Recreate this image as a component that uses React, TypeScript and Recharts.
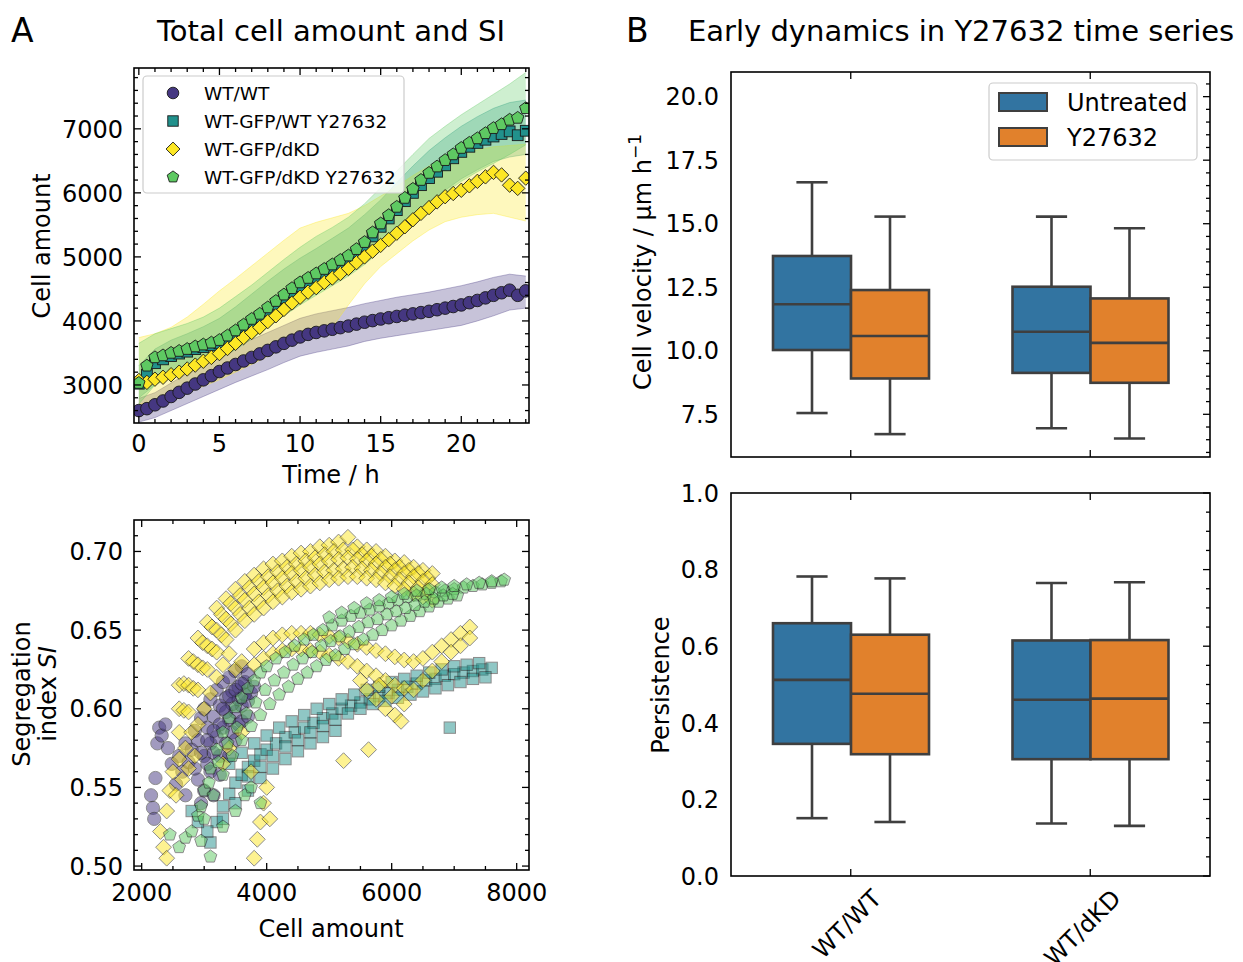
import React from 'react';
import { ComposedChart, Scatter, Area, Bar, XAxis, YAxis } from 'recharts';

const FONT = '"DejaVu Sans", Verdana, sans-serif';

// ---------------- Panel A (top): cell amount vs time ----------------
const meanTimes = [0, 0.5, 1, 1.5, 2, 2.5, 3, 3.5, 4, 4.5, 5, 5.5, 6, 6.5, 7, 7.5, 8, 8.5, 9, 9.5, 10, 10.5, 11, 11.5, 12, 12.5, 13, 13.5, 14, 14.5, 15, 15.5, 16, 16.5, 17, 17.5, 18, 18.5, 19, 19.5, 20, 20.5, 21, 21.5, 22, 22.5, 23, 23.5, 24];
const wtwtMean = [2600, 2630, 2690, 2750, 2820, 2885, 2950, 3015, 3080, 3145, 3210, 3265, 3320, 3375, 3430, 3485, 3540, 3595, 3650, 3700, 3750, 3790, 3820, 3845, 3870, 3895, 3920, 3950, 3980, 4005, 4030, 4050, 4070, 4090, 4110, 4130, 4150, 4175, 4200, 4225, 4250, 4285, 4320, 4360, 4400, 4440, 4480, 4400, 4470];
const wtY27Mean = [3020, 3160, 3340, 3400, 3450, 3490, 3520, 3560, 3590, 3620, 3650, 3720, 3800, 3890, 3980, 4060, 4160, 4260, 4360, 4450, 4540, 4610, 4680, 4750, 4820, 4890, 4960, 5060, 5170, 5320, 5470, 5600, 5730, 5870, 6000, 6120, 6230, 6330, 6430, 6540, 6640, 6720, 6780, 6830, 6880, 6920, 6960, 6900, 6970];
const dkdMean = [3070, 3040, 3090, 3120, 3160, 3200, 3250, 3310, 3370, 3430, 3490, 3570, 3650, 3740, 3820, 3900, 3990, 4080, 4180, 4280, 4370, 4450, 4520, 4600, 4670, 4740, 4820, 4910, 5000, 5090, 5180, 5270, 5370, 5470, 5580, 5680, 5770, 5860, 5940, 5990, 6040, 6110, 6180, 6250, 6320, 6280, 6120, 6070, 6230];
const dkdY27Mean = [3030, 3300, 3430, 3460, 3500, 3530, 3560, 3600, 3630, 3660, 3700, 3770, 3850, 3940, 4030, 4110, 4210, 4310, 4410, 4510, 4600, 4670, 4740, 4810, 4880, 4950, 5020, 5120, 5230, 5380, 5520, 5650, 5780, 5920, 6060, 6200, 6310, 6410, 6510, 6600, 6700, 6780, 6850, 6930, 7010, 7070, 7140, 7170, 7320];

const bandTimes = [0, 1, 2, 3, 4, 5, 6, 7, 8, 9, 10, 11, 12, 13, 14, 15, 16, 17, 18, 19, 20, 21, 22, 23, 24];
const wtwtLo = [2420, 2490, 2600, 2710, 2820, 2930, 3040, 3140, 3240, 3350, 3450, 3510, 3560, 3610, 3680, 3730, 3770, 3810, 3850, 3890, 3930, 4000, 4080, 4170, 4200];
const wtwtHi = [2790, 2880, 3030, 3180, 3330, 3480, 3600, 3710, 3820, 3930, 4040, 4110, 4160, 4210, 4270, 4320, 4370, 4410, 4450, 4500, 4550, 4610, 4680, 4730, 4700];
const wtY27Lo = [2800, 3000, 3120, 3220, 3330, 3430, 3580, 3760, 3950, 4130, 4300, 4440, 4580, 4740, 4930, 5140, 5380, 5620, 5850, 6040, 6220, 6360, 6490, 6560, 6600];
const wtY27Hi = [3300, 3560, 3700, 3800, 3910, 4040, 4220, 4420, 4620, 4810, 4980, 5130, 5290, 5450, 5660, 5890, 6160, 6420, 6660, 6860, 7040, 7190, 7320, 7410, 7450];
const dkdLo = [2700, 2740, 2800, 2880, 2980, 3080, 3200, 3320, 3450, 3580, 3700, 3800, 3900, 4250, 4580, 4850, 5050, 5250, 5420, 5550, 5620, 5660, 5680, 5620, 5560];
const dkdHi = [3740, 3800, 3900, 4060, 4260, 4470, 4660, 4860, 5060, 5260, 5450, 5540, 5610, 5680, 5800, 5950, 6100, 6270, 6420, 6540, 6610, 6670, 6720, 6740, 6760];
const dkdY27Lo = [2700, 3000, 3150, 3250, 3350, 3420, 3550, 3720, 3900, 4080, 4250, 4400, 4550, 4700, 4880, 5090, 5330, 5570, 5800, 6000, 6180, 6330, 6460, 6600, 6750];
const dkdY27Hi = [3650, 3800, 3880, 3960, 4060, 4200, 4380, 4560, 4760, 4960, 5150, 5320, 5460, 5620, 5830, 6080, 6340, 6600, 6850, 7040, 7220, 7380, 7540, 7700, 7880];

const hourMajor = [0, 5, 10, 15, 20];
const cellMajor = [3000, 4000, 5000, 6000, 7000];

// ---------------- Panel A (bottom): SI vs cell amount ----------------
const siWtwt: [number, number][] = [
  [2150, .545], [2180, .537], [2200, .530], [2220, .556], [2250, .578], [2280, .588], [2320, .583], [2380, .590], [2420, .575], [2480, .565],
  [2550, .552], [2600, .570], [2650, .560], [2700, .578], [2750, .566], [2800, .574], [2850, .586], [2900, .580], [2950, .594], [3000, .600],
  [3000, .570], [3050, .588], [3100, .606], [3100, .578], [3150, .595], [3200, .612], [3200, .582], [3250, .602], [3300, .617], [3300, .588],
  [3350, .607], [3400, .620], [3400, .593], [3450, .611], [3500, .624], [3500, .598], [3550, .614], [3600, .627], [3600, .602], [3650, .617],
  [3700, .622], [3700, .605], [3750, .610], [3800, .614], [2900, .555], [3000, .548], [3100, .560], [3250, .570], [3350, .578], [3450, .585],
  [3550, .590], [2950, .540], [3150, .545], [2700, .545],
  [3050, .565], [3150, .572], [3250, .590], [3350, .598], [3450, .603], [3550, .606], [3650, .609], [3250, .558], [3400, .570], [3500, .580],
  [3600, .592], [3700, .595], [2850, .562], [2950, .572], [3050, .580], [3150, .586], [3300, .600], [3400, .608], [3500, .612], [3600, .616]];
const siWtY27: [number, number][] = [
  [3100, .515], [3200, .528], [3300, .538], [3400, .546], [3500, .553], [3600, .558], [3700, .563], [3800, .567], [3900, .571], [4000, .574],
  [4150, .578], [4300, .582], [4450, .585], [4600, .588], [4750, .591], [4900, .594], [5050, .597], [5200, .600], [5350, .602], [5500, .604],
  [5650, .606], [5800, .608], [5950, .610], [6100, .612], [6250, .614], [6400, .616], [6550, .618], [6700, .619], [6850, .621], [7000, .622],
  [7150, .623], [7300, .624], [7450, .625], [7600, .626],
  [3600, .572], [3800, .578], [4000, .583], [4200, .588], [4400, .592], [4600, .596], [4800, .600], [5000, .603], [5200, .606], [5400, .609],
  [5600, .612], [5800, .614], [6000, .617], [6200, .619], [6400, .621], [6600, .623], [6800, .625], [7000, .627], [7200, .628], [7400, .629],
  [3300, .530], [3500, .540], [3700, .548], [3900, .556], [4100, .562], [4300, .568], [4500, .573], [4700, .578], [4900, .582], [5100, .586],
  [3700, .557], [3900, .563], [4100, .570], [4300, .576], [4500, .580], [4700, .585], [4900, .589], [5100, .593], [5300, .597], [5500, .600],
  [5700, .603], [5900, .605], [6100, .607], [6300, .609], [6500, .611], [6700, .613], [6900, .615], [7100, .617], [7300, .619], [7500, .620],
  [6930, .588], [3050, .522], [2900, .528], [2800, .535], [3400, .565]];
const siDkd: [number, number][] = [
  [2600, .615], [2750, .632], [2900, .645], [3050, .655], [3200, .664], [3350, .670], [3500, .676], [3650, .681], [3800, .685], [3950, .689],
  [4100, .692], [4250, .694], [4400, .697], [4550, .699], [4700, .700], [4850, .703], [5000, .704], [5150, .706], [5300, .709], [5450, .703],
  [5600, .701], [5750, .700], [5900, .697], [6050, .694], [6200, .693], [6350, .690], [6500, .688], [6650, .686],
  [2675, .616], [2825, .630], [2975, .642], [3125, .652], [3275, .660], [3425, .667], [3575, .672], [3725, .677], [3875, .681], [4025, .684],
  [4175, .687], [4325, .690], [4475, .692], [4625, .694], [4775, .696], [4925, .698], [5075, .700], [5225, .701], [5375, .701], [5525, .698],
  [5675, .697], [5825, .695], [5975, .692], [6125, .690], [6275, .688], [6425, .686], [6575, .683],
  [2600, .600], [2750, .615], [2900, .628], [3050, .640], [3200, .650], [3350, .657], [3500, .664], [3650, .669], [3800, .673], [3950, .677],
  [4100, .680], [4250, .683], [4400, .686], [4550, .688], [4700, .690], [4850, .692], [5000, .694], [5150, .695], [5300, .696], [5450, .695],
  [5600, .694], [5750, .692], [5900, .690], [6050, .688], [6200, .686], [6350, .684], [6500, .681], [6650, .679],
  [2675, .599], [2825, .613], [2975, .626], [3125, .638], [3275, .647], [3425, .654], [3575, .660], [3725, .664], [3875, .668], [4025, .672],
  [4175, .675], [4325, .678], [4475, .681], [4625, .683], [4775, .685], [4925, .687], [5075, .688], [5225, .689], [5375, .690], [5525, .689],
  [5675, .688], [5825, .686], [5975, .684], [6125, .682], [6275, .680], [6425, .677], [6575, .675],
  [2600, .585], [2750, .598], [2900, .612], [3050, .625], [3200, .636], [3350, .644], [3500, .650], [3650, .656], [3800, .660], [3950, .664],
  [4100, .668], [4250, .671], [4400, .674], [4550, .676], [4700, .678], [4850, .680], [5000, .682], [5150, .683], [5300, .684], [5450, .684],
  [5600, .683], [5750, .682], [5900, .680], [6050, .678], [6200, .676], [6350, .673], [6500, .671], [6650, .669],
  [3800, .638], [3950, .642], [4100, .645], [4250, .647], [4400, .648], [4550, .648], [4700, .648], [4850, .647], [5000, .646], [5150, .645],
  [5300, .643], [5450, .641], [5600, .639], [5750, .637], [5900, .635], [6050, .633], [6200, .631], [6350, .630], [6500, .632], [6650, .636],
  [6800, .640], [6950, .644], [7100, .648], [7250, .652],
  [3800, .628], [3950, .632], [4100, .635], [4250, .637], [4400, .638], [4550, .638], [4700, .637], [4850, .636], [5000, .634], [5150, .632],
  [5300, .630], [5450, .627], [5600, .624], [5750, .621], [5900, .618], [6050, .615], [6200, .613], [6350, .612], [6500, .618], [6650, .624],
  [6800, .630], [6950, .636], [7100, .640], [7250, .645],
  [5600, .612], [5750, .606], [5900, .600], [6050, .596], [6150, .592], [5500, .618], [5800, .615], [6000, .608], [6200, .603],
  [2300, .522], [2350, .512], [2400, .535], [2450, .548], [2500, .560], [2550, .545], [2600, .568], [2650, .555], [2700, .575], [2750, .562],
  [2800, .585], [2850, .570], [2900, .590], [3000, .600], [3100, .610], [3200, .620], [3300, .628], [3400, .635], [3500, .625], [3600, .630],
  [2400, .505], [3800, .505], [3850, .517], [3900, .528], [3950, .540], [4000, .550], [4050, .530], [3750, .560], [5230, .567], [5630, .574],
  [3600, .585], [3400, .575], [3300, .565]];
const siDkdY27: [number, number][] = [
  [2900, .532], [3000, .548], [3100, .562], [3200, .574], [3300, .585], [3400, .594], [3500, .601], [3600, .607], [3700, .613], [3800, .618],
  [3900, .623], [4000, .627], [4150, .632], [4300, .636], [4450, .640], [4600, .644], [4750, .647], [4900, .650], [5050, .653], [5200, .656],
  [5350, .659], [5500, .661], [5650, .663], [5800, .665], [5950, .667], [6100, .669], [6250, .671], [6400, .672], [6550, .673], [6700, .674],
  [6850, .675], [7000, .676], [7150, .677], [7300, .678], [7450, .679], [7600, .680], [7750, .681],
  [3000, .530], [3150, .545], [3300, .558], [3450, .570], [3600, .580], [3750, .589], [3900, .596], [4050, .603], [4200, .609], [4350, .614],
  [4500, .619], [4650, .623], [4800, .627], [4950, .631], [5100, .634], [5250, .638], [5400, .641], [5550, .644], [5700, .647], [5850, .650],
  [6000, .653], [6150, .656], [6300, .659], [6450, .662], [6600, .665], [6750, .668], [6900, .670], [7050, .672],
  [2950, .538], [3075, .553], [3225, .566], [3375, .578], [3525, .588], [3675, .597], [3825, .604], [3975, .612], [4125, .618], [4275, .623],
  [4425, .628], [4575, .632], [4725, .636], [4875, .640], [5025, .643], [5175, .646], [5325, .649], [5475, .652], [5625, .655], [5775, .657],
  [5925, .660], [6075, .662], [6225, .664], [6375, .666], [6525, .668], [6675, .670], [6825, .672], [6975, .673],
  [5000, .658], [5200, .661], [5400, .664], [5600, .667], [5800, .669], [6000, .671], [6200, .673], [6400, .675], [6600, .676], [6800, .677],
  [7000, .678], [7200, .679], [7400, .680], [7600, .681], [7800, .682],
  [2450, .520], [2600, .512], [2700, .518], [2800, .522], [2950, .516], [3100, .506], [3300, .525], [3500, .535], [3650, .545], [3750, .550],
  [3900, .540]];

const siCellMajor = [2000, 4000, 6000, 8000];
const siMajor = [0.5, 0.55, 0.6, 0.65, 0.7];

// ---------------- Panel B: box plots (lo whisker, Q1, median, Q3, hi whisker) ----------------
const groups = ['WT/WT', 'WT/dKD'];
const velUntreated = [[7.55, 10.03, 11.83, 13.73, 16.63], [6.95, 9.13, 10.75, 12.52, 15.28]];
const velY27632 = [[6.72, 8.91, 10.58, 12.39, 15.28], [6.55, 8.74, 10.31, 12.06, 14.82]];
const persUntreated = [[0.151, 0.345, 0.512, 0.660, 0.782], [0.137, 0.305, 0.460, 0.615, 0.765]];
const persY27632 = [[0.141, 0.318, 0.476, 0.630, 0.777], [0.131, 0.305, 0.463, 0.616, 0.767]];
const velMajor = [7.5, 10, 12.5, 15, 17.5, 20];
const persMajor = [0, 0.2, 0.4, 0.6, 0.8, 1.0];

// ---------------- colours ----------------
const C_PURPLE = '#453781';
const C_TEAL = '#21918c';
const C_YELLOW = '#fde725';
const C_GREEN = '#5ec962';
const C_BLUE = '#3274a1';
const C_ORANGE = '#e1812c';
const C_EDGE = '#3f3f3f';

const range = (a: number, b: number, s: number, dec: number) => {
  const out: number[] = [];
  const n = Math.round((b - a) / s);
  for (let i = 0; i <= n; i++) out.push(Number((a + i * s).toFixed(dec)));
  return out;
};

// ---------------- markers ----------------
type MK = 'circle' | 'square' | 'diamond' | 'pentagon';
const Marker = ({ kind, cx, cy, r, fill, stroke, sw, opacity }: { kind: MK; cx: number; cy: number; r: number; fill: string; stroke: string; sw: number; opacity?: number }) => {
  const common = { fill, stroke, strokeWidth: sw, opacity: opacity ?? 1 };
  if (kind === 'circle') return <circle cx={cx} cy={cy} r={r} {...common} />;
  if (kind === 'square') return <rect x={cx - r * 0.9} y={cy - r * 0.9} width={r * 1.8} height={r * 1.8} {...common} />;
  if (kind === 'diamond') {
    const d = r * 1.2;
    return <polygon points={`${cx},${cy - d} ${cx + d},${cy} ${cx},${cy + d} ${cx - d},${cy}`} {...common} />;
  }
  const pts: string[] = [];
  for (let k = 0; k < 5; k++) {
    const a = (-90 + k * 72) * Math.PI / 180;
    pts.push(`${cx + r * 1.05 * Math.cos(a)},${cy + r * 1.05 * Math.sin(a)}`);
  }
  return <polygon points={pts.join(' ')} {...common} />;
};

const shapeFn = (kind: MK, r: number, fill: string, stroke: string, sw: number, opacity?: number) => (p: any) => {
  if (p.cx == null || p.cy == null) return <g />;
  return <Marker kind={kind} cx={p.cx} cy={p.cy} r={r} fill={fill} stroke={stroke} sw={sw} opacity={opacity} />;
};

// ---------------- ticks (inward, mirrored on the opposite spine) ----------------
type Edges = { left: number; right: number; top: number; bottom: number };
type TickOpts = {
  side: 'left' | 'bottom';
  e: Edges;
  majors?: (number | string)[];
  label?: boolean;
  near?: boolean;
  mirror?: boolean;
  fmt?: (v: any) => string;
  off?: number;
  rotate?: boolean;
};
const makeTick = (o: TickOpts) => (p: any) => {
  const { payload } = p;
  const v = payload.value;
  const major = !o.majors || o.majors.some((m) => (typeof m === 'number' ? Math.abs(m - Number(v)) < 1e-9 : m === v));
  const len = major ? 7 : 4;
  const ls = { stroke: '#000', strokeWidth: 1.3 };
  const ts = { fontFamily: FONT, fontSize: 24, fill: '#000' };
  const parts: any[] = [];
  if (o.side === 'bottom') {
    const x = p.x;
    if (o.near !== false) parts.push(<line key="n" x1={x} y1={o.e.bottom} x2={x} y2={o.e.bottom - len} {...ls} />);
    if (o.mirror !== false) parts.push(<line key="m" x1={x} y1={o.e.top} x2={x} y2={o.e.top + len} {...ls} />);
    if (o.label && major) {
      const s = o.fmt ? o.fmt(v) : String(v);
      if (o.rotate) {
        const ax = x + 32, ay = o.e.bottom + 24;
        parts.push(<text key="t" x={ax} y={ay} textAnchor="end" transform={`rotate(-45 ${ax} ${ay})`} {...ts}>{s}</text>);
      } else {
        parts.push(<text key="t" x={x} y={o.e.bottom + (o.off ?? 29)} textAnchor="middle" {...ts}>{s}</text>);
      }
    }
  } else {
    const y = p.y;
    if (o.near !== false) parts.push(<line key="n" x1={o.e.left} y1={y} x2={o.e.left + len} y2={y} {...ls} />);
    if (o.mirror !== false) parts.push(<line key="m" x1={o.e.right} y1={y} x2={o.e.right - len} y2={y} {...ls} />);
    if (o.label && major) {
      const s = o.fmt ? o.fmt(v) : String(v);
      parts.push(<text key="t" x={o.e.left - (o.off ?? 10)} y={y + 8.7} textAnchor="end" {...ts}>{s}</text>);
    }
  }
  return <g>{parts}</g>;
};

const axisCommon = { tickSize: 0, tickMargin: 0, tickLine: false, interval: 0 as const, axisLine: false, allowDataOverflow: true };

// chart geometry helper: y-axis width 80, top margin mt
const MT = 20;
const edgesFor = (plotW: number, plotH: number): Edges => ({ left: 80, right: 80 + plotW, top: MT, bottom: MT + plotH });

// ---------------- Panel A top ----------------
const PanelATop = () => {
  const plotW = 395, plotH = 355;
  const e = edgesFor(plotW, plotH);
  const data = bandTimes.map((t, i) => ({
    t,
    pb: [wtwtLo[i], wtwtHi[i]],
    tb: [wtY27Lo[i], wtY27Hi[i]],
    yb: [dkdLo[i], dkdHi[i]],
    gb: [dkdY27Lo[i], dkdY27Hi[i]],
  }));
  const mk = (arr: number[]) => meanTimes.map((t, i) => ({ t, v: arr[i] }));
  const xd: [number, number] = [-0.3, 24.2];
  const yd: [number, number] = [2406, 7950];
  const xt = range(0, 24, 1, 0);
  const yt = range(2600, 7800, 200, 0);
  const areaP = (key: string, col: string) => (
    <Area xAxisId="b" yAxisId="l" dataKey={key} type="linear" fill={col} fillOpacity={0.3} stroke={col} strokeOpacity={0.35} strokeWidth={1} dot={false} activeDot={false} isAnimationActive={false} />
  );
  return (
    <div style={{ position: 'absolute', left: 134 - 80, top: 68 - MT }}>
      <ComposedChart width={80 + plotW + 10} height={MT + plotH + 60} data={data} margin={{ top: MT, right: 10, left: 0, bottom: 0 }}>
        <XAxis xAxisId="b" dataKey="t" type="number" domain={xd} ticks={xt} height={60} tick={makeTick({ side: 'bottom', e, majors: hourMajor, label: true, off: 29 })} {...axisCommon} />
        <YAxis yAxisId="l" dataKey="v" type="number" domain={yd} ticks={yt} width={80} tick={makeTick({ side: 'left', e, majors: cellMajor, label: true, off: 11 })} {...axisCommon} />
        {areaP('pb', C_PURPLE)}
        {areaP('tb', C_TEAL)}
        {areaP('yb', C_YELLOW)}
        {areaP('gb', C_GREEN)}
        <Scatter xAxisId="b" yAxisId="l" data={mk(wtwtMean)} isAnimationActive={false} shape={shapeFn('circle', 6.3, C_PURPLE, '#1a1a1a', 0.9)} />
        <Scatter xAxisId="b" yAxisId="l" data={mk(wtY27Mean)} isAnimationActive={false} shape={shapeFn('square', 6.0, C_TEAL, '#1a1a1a', 0.9)} />
        <Scatter xAxisId="b" yAxisId="l" data={mk(dkdMean)} isAnimationActive={false} shape={shapeFn('diamond', 6.0, C_YELLOW, '#1a1a1a', 0.9)} />
        <Scatter xAxisId="b" yAxisId="l" data={mk(dkdY27Mean)} isAnimationActive={false} shape={shapeFn('pentagon', 6.2, C_GREEN, '#1a1a1a', 0.9)} />
      </ComposedChart>
    </div>
  );
};

// ---------------- Panel A bottom ----------------
const PanelABottom = () => {
  const plotW = 395, plotH = 350;
  const e = edgesFor(plotW, plotH);
  const xd: [number, number] = [1877, 8197];
  const yd: [number, number] = [0.4975, 0.72];
  const xt = range(2000, 8000, 500, 0);
  const yt = range(0.5, 0.71, 0.01, 2);
  const pts = (arr: [number, number][]) => arr.map(([x, y]) => ({ x, y }));
  const OP = 0.5;
  const ED = '#1a1a1a';
  return (
    <div style={{ position: 'absolute', left: 134 - 80, top: 520 - MT }}>
      <ComposedChart width={80 + plotW + 40} height={MT + plotH + 60} margin={{ top: MT, right: 40, left: 0, bottom: 0 }}>
        <XAxis xAxisId="b" dataKey="x" type="number" domain={xd} ticks={xt} height={60} tick={makeTick({ side: 'bottom', e, majors: siCellMajor, label: true, off: 31 })} {...axisCommon} />
        <YAxis yAxisId="l" dataKey="y" type="number" domain={yd} ticks={yt} width={80} tick={makeTick({ side: 'left', e, majors: siMajor, label: true, off: 11, fmt: (v) => Number(v).toFixed(2) })} {...axisCommon} />
        <Scatter xAxisId="b" yAxisId="l" data={pts(siWtwt)} isAnimationActive={false} shape={shapeFn('circle', 6.6, C_PURPLE, ED, 1, OP)} />
        <Scatter xAxisId="b" yAxisId="l" data={pts(siWtY27)} isAnimationActive={false} shape={shapeFn('square', 6.3, C_TEAL, ED, 1, OP)} />
        <Scatter xAxisId="b" yAxisId="l" data={pts(siDkd)} isAnimationActive={false} shape={shapeFn('diamond', 6.6, C_YELLOW, ED, 1, OP)} />
        <Scatter xAxisId="b" yAxisId="l" data={pts(siDkdY27)} isAnimationActive={false} shape={shapeFn('pentagon', 6.4, C_GREEN, ED, 1, OP)} />
      </ComposedChart>
    </div>
  );
};

// ---------------- Box shape ----------------
const boxShape = (statsKey: string, fill: string) => (p: any) => {
  const { x, y, width, height, payload } = p;
  if (x == null || y == null || !payload) return <g />;
  const s: number[] = payload[statsKey];
  const [lo, q1, med, q3, hi] = s;
  const h = Math.abs(height);
  const top = Math.min(y, y + height);
  const k = h / (q3 - q1);
  const medY = top + (q3 - med) * k;
  const hiY = top - (hi - q3) * k;
  const loY = top + h + (q1 - lo) * k;
  const cx = x + width / 2;
  const cap = width * 0.4;
  const ls = { stroke: C_EDGE, strokeWidth: 2.6 };
  return (
    <g>
      <line x1={cx} y1={hiY} x2={cx} y2={top} {...ls} />
      <line x1={cx} y1={top + h} x2={cx} y2={loY} {...ls} />
      <line x1={cx - cap / 2} y1={hiY} x2={cx + cap / 2} y2={hiY} {...ls} />
      <line x1={cx - cap / 2} y1={loY} x2={cx + cap / 2} y2={loY} {...ls} />
      <rect x={x} y={top} width={width} height={h} fill={fill} {...ls} />
      <line x1={x} y1={medY} x2={x + width} y2={medY} {...ls} />
    </g>
  );
};

const BoxPanel = ({ plotTop, plotH, plotW, u, yv, domain, ticks, majors, rotateLabels, xh }: any) => {
  const e = edgesFor(plotW, plotH);
  const data = groups.map((name, i) => ({ name, ur: [u[i][1], u[i][3]], yr: [yv[i][1], yv[i][3]], us: u[i], ys: yv[i] }));
  return (
    <div style={{ position: 'absolute', left: 731 - 80, top: plotTop - MT }}>
      <ComposedChart width={80 + plotW + 20} height={MT + plotH + xh} data={data} margin={{ top: MT, right: 20, left: 0, bottom: 0 }} barCategoryGap={42} barGap={0}>
        <XAxis xAxisId="b" dataKey="name" type="category" height={xh} tick={makeTick({ side: 'bottom', e, label: rotateLabels, rotate: true })} {...axisCommon} />
        <YAxis yAxisId="l" type="number" domain={domain} ticks={ticks} width={80} tick={makeTick({ side: 'left', e, majors, label: true, near: false, off: 12, fmt: (v) => Number(v).toFixed(1) })} {...axisCommon} />
        <Bar xAxisId="b" yAxisId="l" dataKey="ur" isAnimationActive={false} shape={boxShape('us', C_BLUE)} />
        <Bar xAxisId="b" yAxisId="l" dataKey="yr" isAnimationActive={false} shape={boxShape('ys', C_ORANGE)} />
      </ComposedChart>
    </div>
  );
};

// ---------------- Overlay texts, frames and legends ----------------
const Overlay = () => {
  const T = { fontFamily: FONT, fill: '#000' };
  const legA: [MK, string, string][] = [
    ['circle', C_PURPLE, 'WT/WT'],
    ['square', C_TEAL, 'WT-GFP/WT Y27632'],
    ['diamond', C_YELLOW, 'WT-GFP/dKD'],
    ['pentagon', C_GREEN, 'WT-GFP/dKD Y27632'],
  ];
  const rowsA = [93, 121, 149, 177];
  const F = { fill: 'none', stroke: '#000', strokeWidth: 1.6 };
  return (
    <svg width={1243} height={962} style={{ position: 'absolute', left: 0, top: 0, pointerEvents: 'none' }}>
      <rect x={134} y={68} width={395} height={355} {...F} />
      <rect x={134} y={520} width={395} height={350} {...F} />
      <rect x={731} y={72} width={479} height={385} {...F} />
      <rect x={731} y={493} width={479} height={383} {...F} />

      <text x={11} y={42} fontSize={33} {...T}>A</text>
      <text x={331} y={41} fontSize={29} textAnchor="middle" {...T}>Total cell amount and SI</text>
      <text x={626} y={42} fontSize={33} {...T}>B</text>
      <text x={688} y={41} fontSize={29} {...T}>Early dynamics in Y27632 time series</text>

      <text x={50} y={246} fontSize={24} textAnchor="middle" transform="rotate(-90 50 246)" {...T}>Cell amount</text>
      <text x={331} y={483} fontSize={24} textAnchor="middle" {...T}>Time / h</text>
      <text x={30} y={694} fontSize={24} textAnchor="middle" transform="rotate(-90 30 694)" {...T}>Segregation</text>
      <text x={56} y={694} fontSize={24} textAnchor="middle" transform="rotate(-90 56 694)" {...T}>index <tspan fontStyle="italic">SI</tspan></text>
      <text x={331} y={937} fontSize={24} textAnchor="middle" {...T}>Cell amount</text>

      <text x={651} y={262} fontSize={24} textAnchor="middle" transform="rotate(-90 651 262)" {...T}>Cell velocity / µm h<tspan fontSize={17} dy={-10}>−1</tspan></text>
      <text x={669} y={685} fontSize={24} textAnchor="middle" transform="rotate(-90 669 685)" {...T}>Persistence</text>

      {/* Legend A */}
      <rect x={143} y={76} width={261} height={117} rx={4} fill="#fff" fillOpacity={0.8} stroke="#cccccc" strokeWidth={1.2} />
      {legA.map(([k, c, lab], i) => (
        <g key={lab}>
          <Marker kind={k} cx={173} cy={rowsA[i]} r={5.8} fill={c} stroke="#1a1a1a" sw={0.9} />
          <text x={204} y={rowsA[i] + 6.5} fontSize={18.5} {...T}>{lab}</text>
        </g>
      ))}

      {/* Legend B */}
      <rect x={989} y={83} width={208} height={77} rx={4} fill="#fff" fillOpacity={0.8} stroke="#cccccc" strokeWidth={1.2} />
      <rect x={999} y={93} width={48} height={18} fill={C_BLUE} stroke={C_EDGE} strokeWidth={2} />
      <text x={1067} y={110.5} fontSize={24} {...T}>Untreated</text>
      <rect x={999} y={128} width={48} height={18} fill={C_ORANGE} stroke={C_EDGE} strokeWidth={2} />
      <text x={1067} y={145.5} fontSize={24} {...T}>Y27632</text>
    </svg>
  );
};

export default function App() {
  return (
    <div style={{ position: 'absolute', left: 0, top: 0, width: 1243, height: 962, background: '#fff', fontFamily: FONT, overflow: 'hidden' }}>
      <PanelATop />
      <PanelABottom />
      <BoxPanel plotTop={72} plotH={385} plotW={479} u={velUntreated} yv={velY27632} domain={[5.82, 20.97]} ticks={range(6, 20.5, 0.5, 1)} majors={velMajor} rotateLabels={false} xh={20} />
      <BoxPanel plotTop={493} plotH={383} plotW={479} u={persUntreated} yv={persY27632} domain={[0, 1]} ticks={range(0, 1, 0.05, 2)} majors={persMajor} rotateLabels={true} xh={100} />
      <Overlay />
    </div>
  );
}
